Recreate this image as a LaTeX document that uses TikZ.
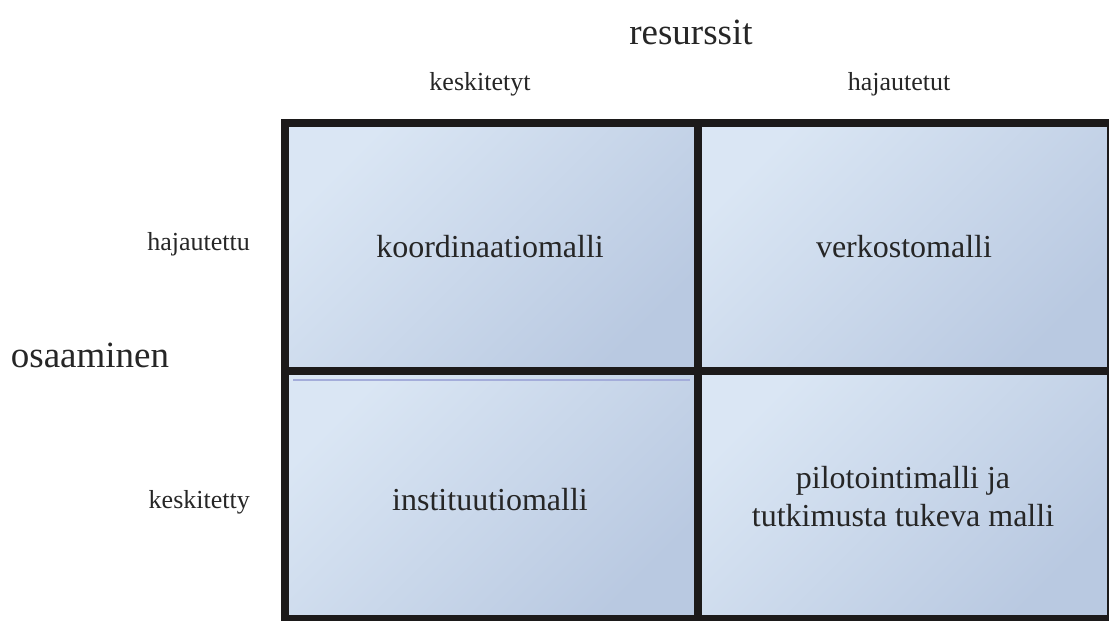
\documentclass[tikz,border=0pt]{standalone}
\usepackage{fontspec}
\setmainfont{Liberation Serif}
\usetikzlibrary{positioning}
\definecolor{cellhi}{HTML}{DAE6F4}
\definecolor{celllo}{HTML}{B9C9E1}
\definecolor{framec}{HTML}{1C1A1A}
\definecolor{txtc}{HTML}{262626}
\definecolor{shadowc}{HTML}{A4ADDA}

\begin{document}
\begin{tikzpicture}[x=1pt,y=-1pt,
		cell/.style={top color=cellhi,bottom color=celllo,shading angle=45},
		grid/.style={draw=framec,line width=8pt},
		lab/.style={text=txtc,inner sep=0pt,anchor=base,font=\fontsize{26}{30}\selectfont},
		model/.style={text=txtc,inner sep=0pt,align=center,font=\fontsize{32}{38}\selectfont}]
		\useasboundingbox (0,0) rectangle (1109,621);
		\shade[cell] (284,123) rectangle (698,371);
		\shade[cell] (698,123) rectangle (1111,371);
		\shade[cell] (284,371) rectangle (698,619);
		\shade[cell] (698,371) rectangle (1111,619);
		\draw[shadowc,line width=2.5pt] (293,380) -- (690,380);
		\draw[grid] (284.5,123) rectangle (1111,619);
		\draw[grid] (697.5,123) -- (697.5,619);
		\draw[grid] (284.5,371) -- (1111,371);
		\node[lab,font=\fontsize{37}{42}\selectfont] (res) at (691,45) {resurssit};
		\node[lab] (keskA) at (480,90) {keskitetyt};
		\node[lab] (hajA) at (899,90) {hajautetut};
		\node[lab,anchor=base east] (hajB) at (250,250) {hajautettu};
		\node[lab,anchor=base east] (keskB) at (250,508) {keskitetty};
		\node[lab,font=\fontsize{37}{42}\selectfont] (osa) at (90,367) {osaaminen};
		\node[model,anchor=base] (koord) at (490,257) {koordinaatiomalli};
		\node[model,anchor=base] (verk) at (904,257) {verkostomalli};
		\node[model,anchor=base] (inst) at (490,510) {instituutiomalli};
		\node[model] (pilot) at (903,497) {pilotointimalli ja\\tutkimusta tukeva malli};
	\end{tikzpicture}
\end{document}
